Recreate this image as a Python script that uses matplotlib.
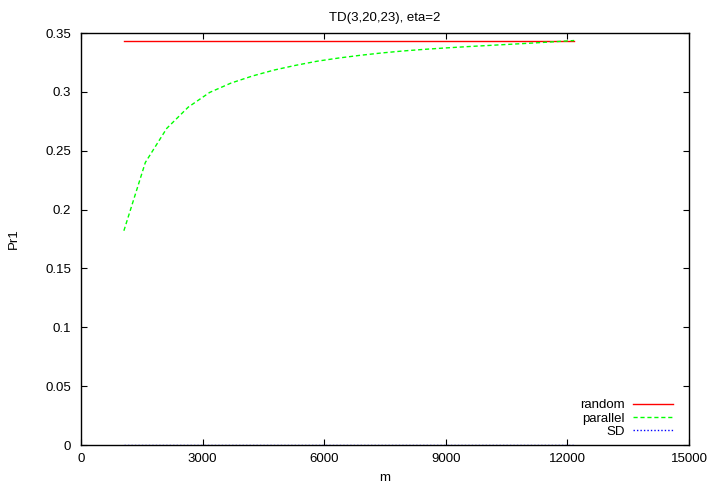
import matplotlib
matplotlib.use("Agg")
import matplotlib.pyplot as plt

plt.rcParams['font.family'] = ['Liberation Sans', 'DejaVu Sans']

m = [1058, 1587, 2116, 2645, 3174, 3703, 4232, 4761, 5290, 5819, 6348,
     6877, 7406, 7935, 8464, 8993, 9522, 10051, 10580, 11109, 11638, 12167]
random_pr = [0.3436] * len(m)
parallel_pr = [0.182, 0.240, 0.269, 0.287, 0.2995, 0.3075, 0.3135, 0.3185,
               0.3225, 0.326, 0.3287, 0.331, 0.333, 0.3347, 0.3361, 0.3373,
               0.3384, 0.3394, 0.3404, 0.3414, 0.3425, 0.3436]
sd_pr = [0.0] * len(m)

xticks = [0, 3000, 6000, 9000, 12000, 15000]
yticks = [0, 0.05, 0.1, 0.15, 0.2, 0.25, 0.3, 0.35]
yticklabels = ['0', '0.05', '0.1', '0.15', '0.2', '0.25', '0.3', '0.35']

W, H = 714, 486
fs = 9.5
fig = plt.figure(figsize=(W / 100, H / 100), dpi=100)
ax = fig.add_axes([81 / W, 1 - 445 / H, (689 - 81) / W, (445 - 33) / H])

ax.plot(m, random_pr, color='#ff0000', lw=1.0, label='random')
ax.plot(m, parallel_pr, color='#00ff00', lw=1.0, ls=(0, (3, 2)), label='parallel')
ax.plot(m, sd_pr, color='#0000ff', lw=1.0, ls=(0, (1, 1.5)), label='SD')

ax.set_xlim(0, 15000)
ax.set_ylim(0, 0.35)
ax.set_xticks(xticks)
ax.set_xticklabels([str(t) for t in xticks])
ax.set_yticks(yticks)
ax.set_yticklabels(yticklabels)
ax.tick_params(direction='in', length=4.5, width=0.8, top=True, right=True,
               labelsize=fs)
ax.tick_params(axis='y', pad=7)
ax.tick_params(axis='x', pad=6)
for s in ax.spines.values():
    s.set_linewidth(1.0)

ax.set_title('TD(3,20,23), eta=2', fontsize=fs, pad=9)
ax.set_xlabel('m', fontsize=fs, labelpad=5)
ax.text(14 / W, 1 - 239 / H, 'Pr1', transform=fig.transFigure, fontsize=fs,
        ha='center', va='center', rotation=90)

leg = ax.legend(loc='lower right', bbox_to_anchor=(1 - 16 / 608, 7 / 412),
                frameon=False, markerfirst=False, fontsize=fs, handlelength=3.0,
                handletextpad=0.65, labelspacing=0.08, borderaxespad=0,
                borderpad=0)

fig.savefig('out.png', dpi=100)
